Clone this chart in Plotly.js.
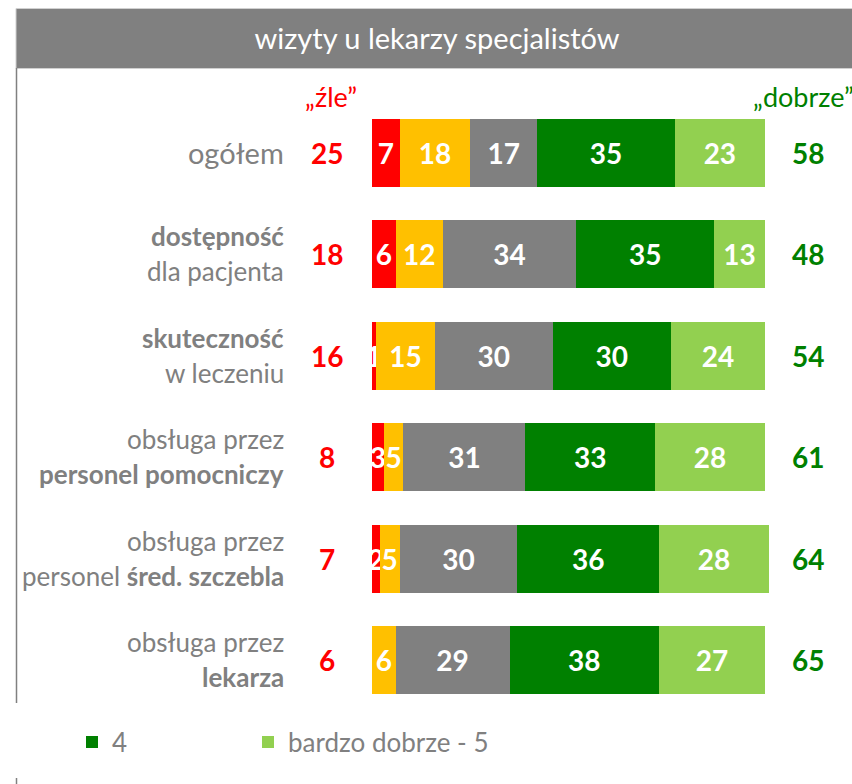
<!DOCTYPE html>
<html>
<head>
<meta charset="utf-8">
<script src="https://cdn.plot.ly/plotly-3.0.1.min.js"></script>
<style>html,body{margin:0;padding:0;background:#fff;}#chart{width:852px;height:784px;}</style>
</head>
<body>
<div id="chart"></div>
<script>
// ---- data ----
var categories = ['ogółem', 'dostępność', 'skuteczność', 'pomocniczy', 'średni', 'lekarz'];
var labelLine1 = ['ogółem', '<b>dostępność</b>', '<b>skuteczność</b>', 'obsługa przez', 'obsługa przez', 'obsługa przez'];
var labelLine2 = ['', 'dla pacjenta', 'w leczeniu', '<b>personel pomocniczy</b>', 'personel <b>śred. szczebla</b>', '<b>lekarza</b>'];
var seriesNames = ['bardzo źle - 1', '2', '3', '4', 'bardzo dobrze - 5'];
var v1 = [7, 6, 1, 3, 2, 0];
var v2 = [18, 12, 15, 5, 5, 6];
var v3 = [17, 34, 30, 31, 30, 29];
var v4 = [35, 35, 30, 33, 36, 38];
var v5 = [23, 13, 24, 28, 28, 27];
var zleTotals = [25, 18, 16, 8, 7, 6];
var dobrzeTotals = [58, 48, 54, 61, 64, 65];
var headerLeft = '„źle”';
var headerRight = '„dobrze”';
var chartTitle = 'wizyty u lekarzy specjalistów';

// ---- styles ----
var colors = ['#FF0000', '#FFC000', '#808080', '#008000', '#92D050'];
var FONT = 'Lato, "Open Sans", sans-serif';
var values = [v1, v2, v3, v4, v5];
var showLeg = [false, false, false, true, true];
var legendIds = ['legend', 'legend', 'legend', 'legend', 'legend2'];

var traces = values.map(function (vals, i) {
  return {
    type: 'bar',
    orientation: 'h',
    name: seriesNames[i],
    y: categories,
    x: vals,
    marker: { color: colors[i] },
    text: vals.map(String),
    texttemplate: '<b>%{text}</b>',
    textposition: 'inside',
    insidetextanchor: 'middle',
    insidetextfont: { family: FONT, size: 28, color: '#FFFFFF' },
    constraintext: 'none',
    cliponaxis: false,
    showlegend: showLeg[i],
    legend: legendIds[i],
    hoverinfo: 'x+name'
  };
});

// layout geometry helpers (paper coords)
var L = 372, R = 83, T = 102, B = 73, W = 852, H = 784;
var XMAX = 101;
var pw = W - L - R, ph = H - T - B;
function px(x) { return (x - L) / pw; }
function py(y) { return (H - B - y) / ph; }

var annotations = [];
categories.forEach(function (c, i) {
  if (labelLine2[i] === '') {
    annotations.push({ xref: 'paper', yref: 'y', x: px(286), y: c, xanchor: 'right', yanchor: 'middle',
      text: labelLine1[i], showarrow: false, font: { family: FONT, size: 29, color: '#808080' } });
  } else {
    annotations.push({ xref: 'paper', yref: 'y', x: px(286), y: c, xanchor: 'right', yanchor: 'middle', yshift: 18,
      text: labelLine1[i], showarrow: false, font: { family: FONT, size: 26, color: '#808080' } });
    annotations.push({ xref: 'paper', yref: 'y', x: px(286), y: c, xanchor: 'right', yanchor: 'middle', yshift: -17,
      text: labelLine2[i], showarrow: false, font: { family: FONT, size: 26, color: '#808080' } });
  }
  annotations.push({ xref: 'paper', yref: 'y', x: px(327), y: c, xanchor: 'center', yanchor: 'middle',
    text: '<b>' + zleTotals[i] + '</b>', showarrow: false, font: { family: FONT, size: 28, color: '#FF0000' } });
  annotations.push({ xref: 'paper', yref: 'y', x: px(808), y: c, xanchor: 'center', yanchor: 'middle',
    text: '<b>' + dobrzeTotals[i] + '</b>', showarrow: false, font: { family: FONT, size: 28, color: '#008000' } });
});
annotations.push({ xref: 'paper', yref: 'paper', x: px(331), y: py(97), xanchor: 'center', yanchor: 'middle',
  text: headerLeft, showarrow: false, font: { family: FONT, size: 27, color: '#FF0000' } });
annotations.push({ xref: 'paper', yref: 'paper', x: px(751), y: py(97), xanchor: 'left', yanchor: 'middle',
  text: headerRight, showarrow: false, font: { family: FONT, size: 27, color: '#008000' } });

var shapes = [
  { type: 'rect', xref: 'paper', yref: 'paper', x0: px(16), x1: px(860), y0: py(68.5), y1: py(8.5),
    fillcolor: '#808080', line: { color: '#D0D0D0', width: 1 }, layer: 'below' },
  { type: 'line', xref: 'paper', yref: 'paper', x0: px(16.5), x1: px(16.5), y0: py(68), y1: py(703),
    line: { color: '#808080', width: 1.5 } },
  { type: 'line', xref: 'paper', yref: 'paper', x0: px(16.5), x1: px(16.5), y0: py(778), y1: py(790),
    line: { color: '#808080', width: 1.5 } }
];

var legendBase = { orientation: 'h', xanchor: 'left', y: py(742), yanchor: 'middle',
  font: { family: FONT, size: 26, color: '#808080' }, bgcolor: 'rgba(0,0,0,0)' };

var layout = {
  width: W, height: H,
  margin: { l: L, r: R, t: T, b: B, pad: 0 },
  paper_bgcolor: '#FFFFFF', plot_bgcolor: '#FFFFFF',
  font: { family: FONT, color: '#808080' },
  title: { text: chartTitle, x: 437 / W, xanchor: 'center', y: 1 - 39 / H, yanchor: 'middle',
    font: { family: FONT, size: 29, color: '#FFFFFF' } },
  barmode: 'stack',
  bargap: 0.33,
  uniformtext: { mode: 'show', minsize: 28 },
  xaxis: { range: [0, XMAX], visible: false, fixedrange: true },
  yaxis: { autorange: 'reversed', visible: false, fixedrange: true, categoryorder: 'array', categoryarray: categories },
  showlegend: true,
  legend: Object.assign({}, legendBase, { x: px(72) }),
  legend2: Object.assign({}, legendBase, { x: px(248) }),
  annotations: annotations,
  shapes: shapes
};

Plotly.newPlot('chart', traces, layout, { displayModeBar: false, staticPlot: true });
</script>
</body>
</html>
